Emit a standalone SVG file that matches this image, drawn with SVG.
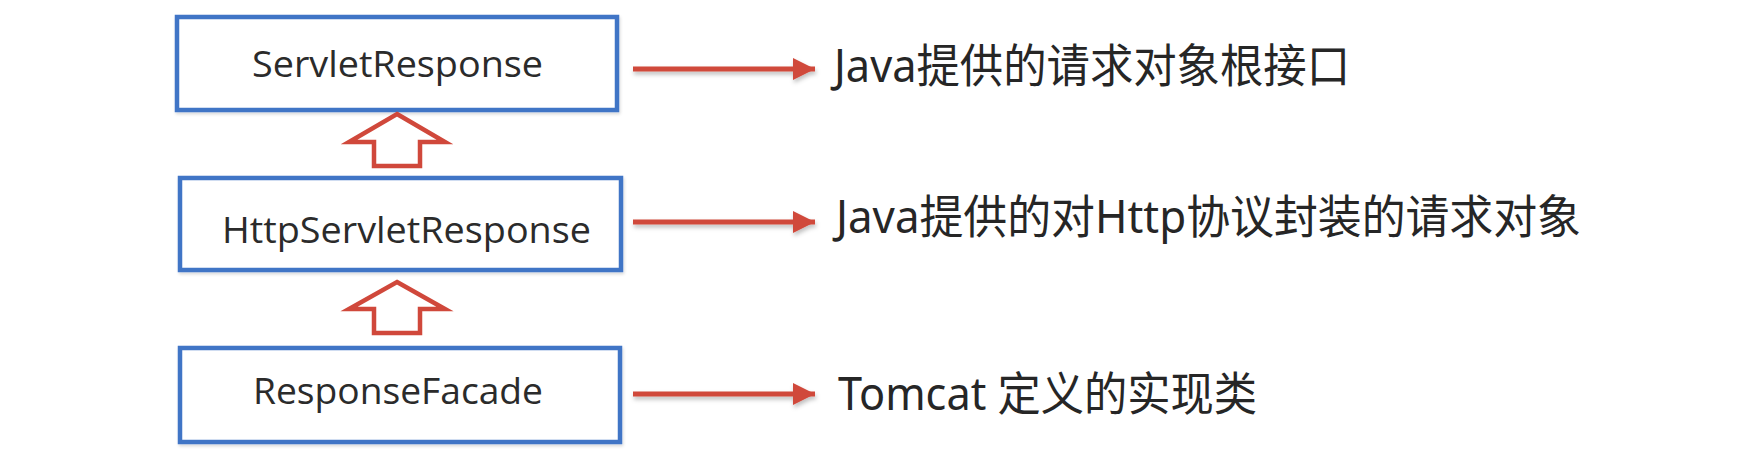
<svg xmlns="http://www.w3.org/2000/svg" width="1739" height="458" viewBox="0 0 1739 458">
  <defs>
    <filter id="sh" x="-10%" y="-50%" width="120%" height="250%">
      <feDropShadow dx="1" dy="3" stdDeviation="2" flood-color="#000" flood-opacity="0.25"/>
    </filter>
    <filter id="bsh" x="-5%" y="-10%" width="110%" height="130%">
      <feDropShadow dx="1" dy="2" stdDeviation="1.5" flood-color="#000" flood-opacity="0.15"/>
    </filter>
    <marker id="ah" markerUnits="userSpaceOnUse" markerWidth="24" markerHeight="24" refX="22" refY="11" orient="auto">
      <path d="M0,0 L22,11 L0,22 Z" fill="#d0483b"/>
    </marker>
  </defs>
  <style>
    .box { fill: #ffffff; stroke: #4174c6; stroke-width: 4.5; }
    .bt { font-family: "Open Sans", "Noto Sans", sans-serif; font-size: 36px; fill: #2b2b2b; }
    .rt { font-family: "Noto Sans", "Noto Sans CJK SC", sans-serif; font-size: 46px; fill: #262626; }
    .hollow { fill: #ffffff; stroke: #d0483b; stroke-width: 4.5; stroke-linejoin: miter; }
    .conn { stroke: #d0483b; stroke-width: 5; fill: none; }
  </style>
  <rect width="1739" height="458" fill="#ffffff"/>

  <g id="node-servletresponse">
    <rect class="box" x="177" y="17" width="440" height="93" filter="url(#bsh)"/>
    <text class="bt" x="252" y="77" textLength="291" lengthAdjust="spacingAndGlyphs">ServletResponse</text>
  </g>
  <g id="node-httpservletresponse">
    <rect class="box" x="180" y="178" width="441" height="92" filter="url(#bsh)"/>
    <text class="bt" x="222" y="243" textLength="369" lengthAdjust="spacingAndGlyphs">HttpServletResponse</text>
  </g>
  <g id="node-responsefacade">
    <rect class="box" x="180" y="348" width="440" height="94" filter="url(#bsh)"/>
    <text class="bt" x="253" y="404" textLength="290" lengthAdjust="spacingAndGlyphs">ResponseFacade</text>
  </g>

  <g id="label-1">
    <text class="rt" x="834" y="82" textLength="516" lengthAdjust="spacingAndGlyphs">Java提供的请求对象根接口</text>
  </g>
  <g id="label-2">
    <text class="rt" x="836" y="233" textLength="745" lengthAdjust="spacingAndGlyphs">Java提供的对Http协议封装的请求对象</text>
  </g>
  <g id="label-3">
    <text class="rt" x="838" y="410" textLength="419" lengthAdjust="spacingAndGlyphs">Tomcat 定义的实现类</text>
  </g>

  <g id="connectors">
    <g filter="url(#sh)">
      <line class="conn" x1="633" y1="69" x2="815" y2="69" marker-end="url(#ah)"/>
      <line class="conn" x1="633" y1="222" x2="815" y2="222" marker-end="url(#ah)"/>
      <line class="conn" x1="633" y1="394" x2="815" y2="394" marker-end="url(#ah)"/>
    </g>
    <polygon class="hollow" points="397,114 445,142 420,142 420,166 374,166 374,142 349,142"/>
    <polygon class="hollow" points="397,282 445,309 420,309 420,333 374,333 374,309 349,309"/>
  </g>
</svg>
